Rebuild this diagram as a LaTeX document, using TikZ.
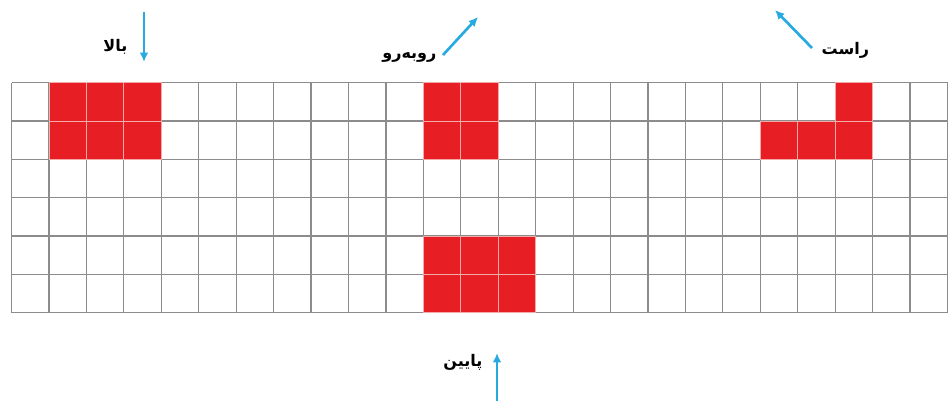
\documentclass[tikz,border=0pt]{standalone}
\usepackage{fontspec}
\usepackage{tikz}
\usetikzlibrary{arrows.meta, positioning}
\newfontfamily\arabicfont[Script=Arabic]{DejaVu Sans}
\TeXXeTstate=1
\definecolor{cellred}{RGB}{232,30,37}
\definecolor{cellgap}{RGB}{245,170,170}
\definecolor{gridgray}{RGB}{140,140,140}
\definecolor{arrowblue}{RGB}{38,170,225}

\begin{document}
\begin{tikzpicture}[
    x=0.75pt, y=0.75pt,
    every node/.style={font=\arabicfont\bfseries\fontsize{12}{14}\selectfont, inner sep=1pt},
    gridline/.style={draw=gridgray, line width=0.9pt},
    redcell/.style={fill=cellred, draw=cellgap, line width=0.6pt},
    viewarrow/.style={-{Latex[length=7pt, width=6.5pt]}, draw=arrowblue, line width=2pt}
]
\useasboundingbox (0,0) rectangle (952,401);

% the board
\begin{scope}[shift={(11.5,88.3)}, x=28.08pt, y=28.75pt]
\draw[gridline, step=1] (0,0) grid (25,6);
\foreach \c/\r in {1/5, 2/5, 3/5, 1/4, 2/4, 3/4,
                   11/5, 12/5, 11/4, 12/4,
                   11/1, 12/1, 13/1, 11/0, 12/0, 13/0,
                   22/5, 20/4, 21/4, 22/4}
  \draw[redcell] (\c,\r) rectangle ++(1,1);
\end{scope}

% arrows of view
\coordinate (topstart) at (144,389);
\coordinate (topend) at (144,339);
\coordinate (frontstart) at (443,346);
\coordinate (frontend) at (478,384);
\coordinate (rightstart) at (812,353);
\coordinate (rightend) at (775,391);
\coordinate (bottomstart) at (497,0);
\coordinate (bottomend) at (497,48);

\draw[viewarrow] (topstart) -- (topend);
\draw[viewarrow] (frontstart) -- (frontend);
\draw[viewarrow] (rightstart) -- (rightend);
\draw[viewarrow] (bottomstart) -- (bottomend);

\node[anchor=east] (toplabel) at (129,354) {\beginR بالا\endR};
\node[anchor=east] (frontlabel) at (438,343) {\beginR روبەرو\endR};
\node[anchor=west] (rightlabel) at (820,351) {\beginR راست\endR};
\node[anchor=east] (bottomlabel) at (484,39) {\beginR پایین\endR};
\end{tikzpicture}
\end{document}
